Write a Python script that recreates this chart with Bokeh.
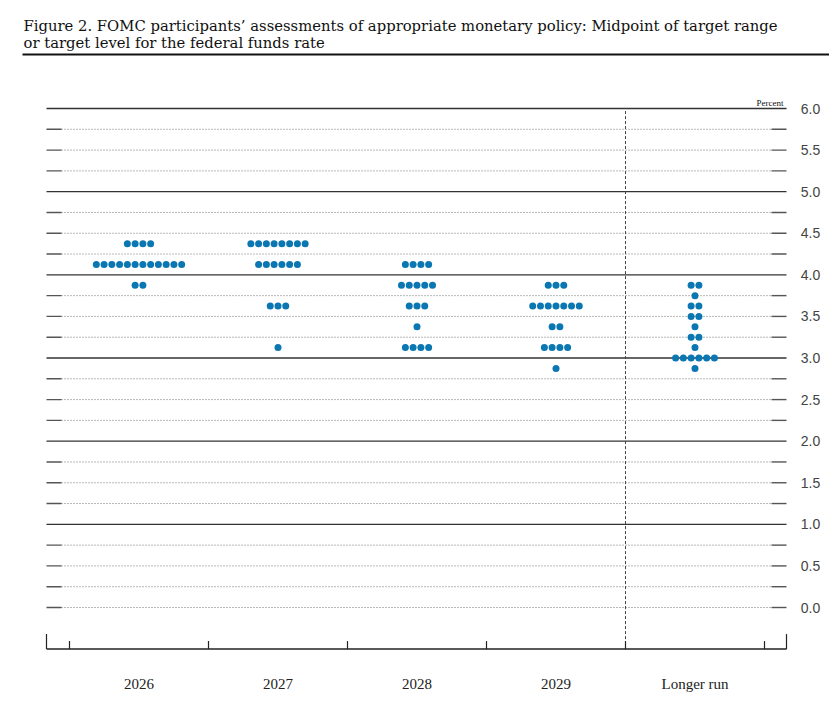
from bokeh.plotting import figure
from bokeh.models import Range1d
from bokeh.embed import file_html
from bokeh.resources import INLINE
from bokeh.core.properties import value

# ---------------- data ----------------
categories = ["2026", "2027", "2028", "2029", "Longer run"]

rates_2026 = [4.375, 4.125, 3.875]
counts_2026 = [4, 12, 2]
rates_2027 = [4.375, 4.125, 3.625, 3.125]
counts_2027 = [8, 6, 3, 1]
rates_2028 = [4.125, 3.875, 3.625, 3.375, 3.125]
counts_2028 = [4, 5, 3, 1, 4]
rates_2029 = [3.875, 3.625, 3.375, 3.125, 2.875]
counts_2029 = [3, 7, 2, 4, 1]
rates_lr = [3.875, 3.75, 3.625, 3.5, 3.375, 3.25, 3.125, 3.0, 2.875]
counts_lr = [2, 1, 2, 2, 1, 2, 1, 6, 1]

y_ticks = [0.0, 0.5, 1.0, 1.5, 2.0, 2.5, 3.0, 3.5, 4.0, 4.5, 5.0, 5.5, 6.0]
y_tick_labels = ["0.0", "0.5", "1.0", "1.5", "2.0", "2.5", "3.0", "3.5",
                 "4.0", "4.5", "5.0", "5.5", "6.0"]
grid_levels = [0.0, 0.25, 0.5, 0.75, 1.0, 1.25, 1.5, 1.75, 2.0, 2.25, 2.5, 2.75,
               3.0, 3.25, 3.5, 3.75, 4.0, 4.25, 4.5, 4.75, 5.0, 5.25, 5.5, 5.75, 6.0]

title_lines = ["Figure 2. FOMC participants\u2019 assessments of appropriate monetary policy: Midpoint of target range",
               "or target level for the federal funds rate"]

# ---------------- layout helpers ----------------
W, H = 829, 693
CAT_PX0, CAT_W = 69.0, 139.0      # pixel of category boundary 0, width of a category
TOP_PX, UNIT = 108.0, 499.0 / 6   # pixel of 6.0, pixels per percentage point


def X(px):
    return (px - CAT_PX0) / CAT_W


def Y(py):
    return 6.0 - (py - TOP_PX) / UNIT


XL, XR = X(46), X(786)
Y_BOTTOM = -0.5
DASH = 15 / CAT_W
DOT_GAP = 7.76 / CAT_W

p = figure(width=W, height=H, x_range=Range1d(X(0), X(W)), y_range=Range1d(Y(H), Y(0)),
           output_backend="svg", toolbar_location=None, x_axis_location=None,
           y_axis_location=None, min_border=0, outline_line_color=None,
           title_location=None, background_fill_color="white", border_fill_color="white")
p.xgrid.visible = False
p.ygrid.visible = False

# ---------------- grid lines ----------------
solid = [l for l in grid_levels if l > 0 and l == int(l)]
dotted = [l for l in grid_levels if not (l > 0 and l == int(l))]
p.multi_line(xs=[[XL + DASH, XR - DASH] for _ in dotted], ys=[[l, l] for l in dotted],
             line_color="#707070", line_width=1, line_dash="1 2")
# short solid marks at both ends of each dotted level
p.hbar(y=dotted, left=XL, right=XL + DASH, height=1.4 / UNIT, fill_color="#555555",
       line_color=None)
p.hbar(y=dotted, left=XR - DASH, right=XR, height=1.4 / UNIT, fill_color="#555555",
       line_color=None)
p.hbar(y=solid, left=XL, right=XR, height=1.3 / UNIT, fill_color="#333333", line_color=None)

# divider before "Longer run"
n_years = len(categories) - 1
p.line(x=[n_years, n_years], y=[Y_BOTTOM, 6.0], line_color="#444444", line_width=1,
       line_dash="3 2")

# bottom axis
p.line(x=[XL, XR], y=[Y_BOTTOM, Y_BOTTOM], line_color="#222222", line_width=1.5)
tick_x = list(range(len(categories) + 1))
p.vbar(x=tick_x, bottom=Y_BOTTOM, top=Y_BOTTOM + 8 / UNIT, width=1.2 / CAT_W,
       fill_color="#222222", line_color=None)
p.vbar(x=[XL, XR], bottom=Y_BOTTOM, top=Y_BOTTOM + 15 / UNIT, width=1.2 / CAT_W,
       fill_color="#222222", line_color=None)

# ---------------- dots ----------------
all_rates = [rates_2026, rates_2027, rates_2028, rates_2029, rates_lr]
all_counts = [counts_2026, counts_2027, counts_2028, counts_2029, counts_lr]
dx, dy = [], []
for i, (rates, counts) in enumerate(zip(all_rates, all_counts)):
    center = i + 0.5
    for r, n in zip(rates, counts):
        for j in range(n):
            dx.append(center + (j - (n - 1) / 2) * DOT_GAP)
            dy.append(r)
p.scatter(x=dx, y=dy, size=7, fill_color="#0b77b2", line_color=None)

# ---------------- texts ----------------
p.text(x=[X(810)] * len(y_ticks), y=y_ticks, text=y_tick_labels, text_align="center",
       text_baseline="middle", text_font=value("Liberation Sans"), text_font_size="14px",
       text_color="#444444")
p.text(x=[i + 0.5 for i in range(len(categories))], y=[Y(683)] * len(categories), text=categories,
       text_align="center", text_baseline="middle", text_font=value("Liberation Serif"),
       text_font_size="15px", text_color="#222222")
p.text(x=[X(783)], y=[Y(102.5)], text=["Percent"], text_align="right", text_baseline="alphabetic",
       text_font=value("Liberation Serif"), text_font_size="9px", text_color="#111111")
p.text(x=[X(23)] * 2, y=[Y(24.5), Y(42)], text=title_lines, text_align="left",
       text_baseline="alphabetic", text_font=value("DejaVu Serif"), text_font_size="14.8px",
       text_color="#111111")
p.hbar(y=[Y(54)], left=X(22), right=X(W), height=2.2 / UNIT, fill_color="#111111",
       line_color=None)

open("out.html", "w").write(file_html(p, INLINE))
